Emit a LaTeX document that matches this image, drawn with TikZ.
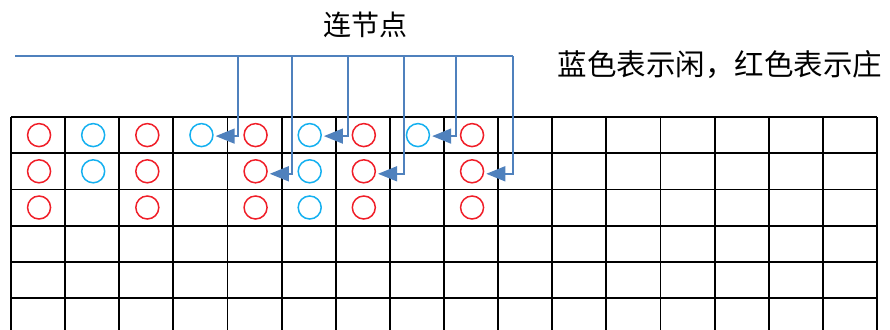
\documentclass[tikz,border=0pt]{standalone}
\usepackage{fontspec}
\newfontfamily\cjk{Noto Sans CJK SC}
\usetikzlibrary{arrows.meta}
\definecolor{redc}{RGB}{240,30,40}
\definecolor{bluec}{RGB}{20,176,240}
\definecolor{linkc}{RGB}{79,129,189}
\tikzset{
  gridline/.style={black, line width=1.8pt},
  bead/.style={circle, minimum size=23pt, inner sep=0pt, line width=1.5pt},
  redbead/.style={bead, draw=redc},
  bluebead/.style={bead, draw=bluec},
  bus/.style={linkc, line width=1.6pt},
  link/.style={linkc, line width=1.6pt, shorten >=2pt, -{Triangle[length=19pt,width=15pt]}},
  lbl/.style={font=\cjk\fontsize{28pt}{30pt}\selectfont, inner sep=0pt},
  lblb/.style={font=\cjk\fontsize{29.5pt}{31pt}\selectfont, inner sep=0pt}
}
\begin{document}
\begin{tikzpicture}[x=1pt,y=-1pt]
\useasboundingbox (0,0) rectangle (890,329);
\fill[white] (0,0) rectangle (890,329);
% grid
\begin{scope}
\clip (0,0) rectangle (890,329);
\foreach \i in {0,...,16} {
  \draw[gridline] ({11+54.125*\i},117) -- ({11+54.125*\i},340);
}
\foreach \j in {0,...,6} {
  \draw[gridline] (11,{117+36.2*\j}) -- (877,{117+36.2*\j});
}
\end{scope}
% beads
\foreach \c/\r/\t in {1/1/red,2/1/blue,3/1/red,4/1/blue,5/1/red,6/1/blue,7/1/red,8/1/blue,9/1/red,
                     1/2/red,2/2/blue,3/2/red,5/2/red,6/2/blue,7/2/red,9/2/red,
                     1/3/red,3/3/red,5/3/red,6/3/blue,7/3/red,9/3/red} {
  \node[\t bead] (b\c\r) at ({12+54.125*(\c-0.5)},{117+36.2*(\r-0.5)}) {};
}
% texts
\node[lbl] (t1) at (365,25) {连节点};
\node[lblb] (t2) at (720,65) {蓝色表示闲，红色表示庄};
% bus
\coordinate (bs) at (15,56);
\coordinate (be) at (513,56);
\draw[bus] (bs) -- (be);
\foreach \x/\n in {238/1,292/2,348/3,404/4,456/5,513/6} {
  \coordinate (k\n) at (\x,56);
}
\draw[link] (k1) |- ([yshift=-1pt]b41.east);
\draw[link] (k2) |- ([yshift=-2.5pt]b52.east);
\draw[link] (k3) |- ([yshift=-1pt]b61.east);
\draw[link] (k4) |- ([yshift=-2.5pt]b72.east);
\draw[link] (k5) |- ([yshift=-1pt]b81.east);
\draw[link] (k6) |- ([yshift=-2.5pt]b92.east);
\end{tikzpicture}
\end{document}
